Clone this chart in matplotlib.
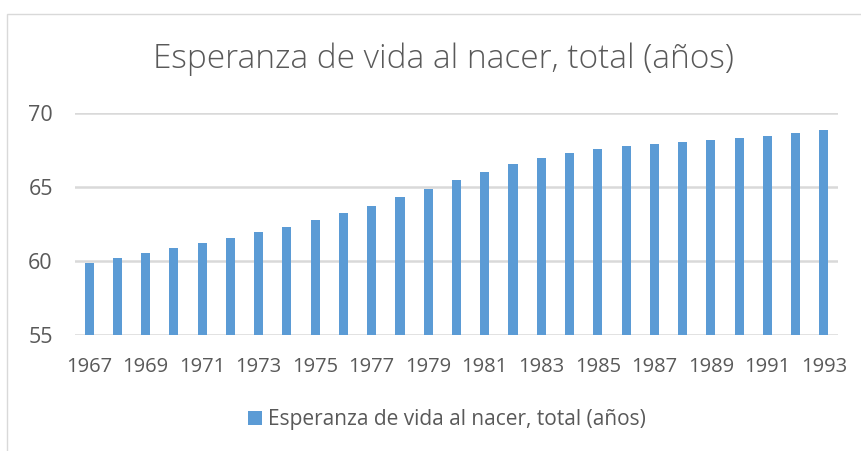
import matplotlib
matplotlib.use('Agg')
import matplotlib.pyplot as plt
from matplotlib.patches import Rectangle
import numpy as np

years = list(range(1967, 1994))
life_exp = [59.84, 60.18, 60.54, 60.88, 61.21, 61.55, 61.93, 62.31, 62.76,
            63.24, 63.75, 64.31, 64.88, 65.45, 66.01, 66.53, 66.93, 67.29,
            67.56, 67.76, 67.92, 68.06, 68.17, 68.28, 68.44, 68.62, 68.85]
yticks = [55, 60, 65, 70]
title = 'Esperanza de vida al nacer, total (años)'

BAR = '#5b9bd5'
TXT = '#595959'
GRID = '#d9d9d9'
W, H = 862, 451

plt.rcParams['font.family'] = ['Open Sans', 'DejaVu Sans']

fig = plt.figure(figsize=(W / 100, H / 100), dpi=100)

# chart border (cropped on right and bottom)
fig.patches.append(Rectangle((7 / W, -0.1), 1.2, 1 - 14 / H + 0.1,
                             transform=fig.transFigure, fill=False,
                             edgecolor=GRID, linewidth=1.0))

ax = fig.add_axes([75 / W, 1 - 335 / H, (838 - 75) / W, (335 - 113) / H])
x = np.arange(len(years))
ax.bar(x, [v - 55 for v in life_exp], bottom=55, width=0.32, color=BAR,
       label=title, zorder=3)

ax.set_xlim(-0.5, len(years) - 0.5)
ax.set_ylim(55, 70)
ax.set_yticks(yticks)
ax.set_yticklabels([str(t) for t in yticks])
ax.set_xticks(x[::2])
ax.set_xticklabels([str(y) for y in years[::2]])
ax.tick_params(length=0, labelsize=14.5, colors=TXT)
ax.tick_params(axis='x', pad=16)
ax.tick_params(axis='y', pad=16)
for t in ax.get_yticklabels():
    t.set_fontsize(15.5)

ax.grid(axis='y', color=GRID, linewidth=1.8, zorder=0)
for s in ax.spines.values():
    s.set_visible(False)

fig.text(443 / W, 1 - 59 / H, title, ha='center', va='center',
         fontsize=24, color=TXT, fontfamily=['Open Sans'], fontweight='light')

fig.legend(loc='center', bbox_to_anchor=(447 / W, 1 - 420 / H), frameon=False,
           fontsize=15, labelcolor=TXT, handlelength=0.65, handleheight=0.65,
           handletextpad=0.3)

fig.savefig('out.png', dpi=100)
